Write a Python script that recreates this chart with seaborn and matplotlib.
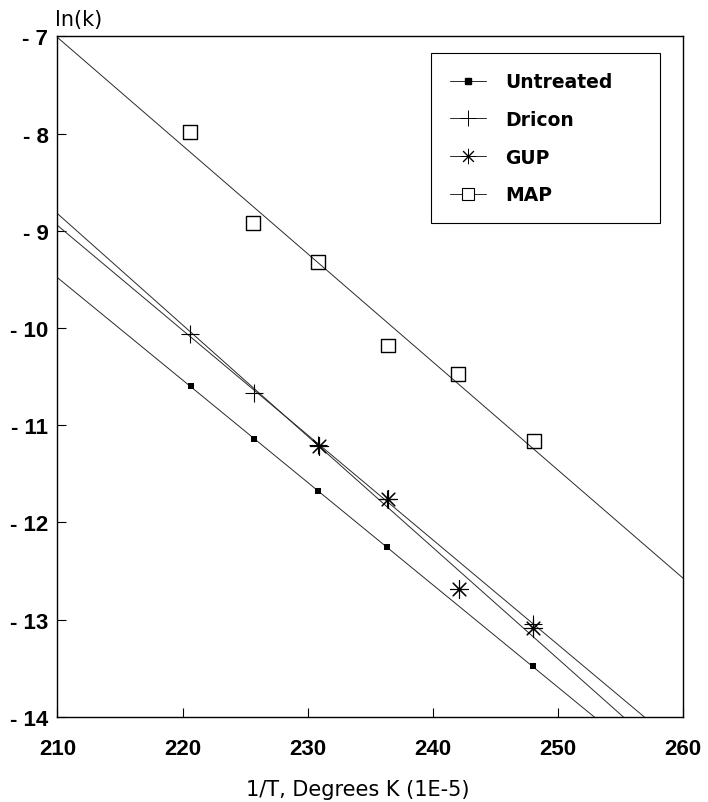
import matplotlib
matplotlib.use("Agg")
import matplotlib.pyplot as plt
from matplotlib.lines import Line2D
import seaborn as sns

# Reaction rate constants (ln k) against inverse temperature (1/T, 1E-5 K^-1)
untreated_x = [220.7, 225.7, 230.8, 236.3, 248.0]
untreated_y = [-10.60, -11.14, -11.68, -12.25, -13.48]

dricon_x = [220.6, 225.7, 230.8, 236.3, 248.0]
dricon_y = [-10.06, -10.67, -11.20, -11.76, -13.04]

gup_x = [230.9, 236.4, 242.1, 248.0]
gup_y = [-11.21, -11.76, -12.68, -13.08]

map_x = [220.6, 225.65, 230.8, 236.4, 242.0, 248.06]
map_y = [-7.98, -8.92, -9.32, -10.18, -10.47, -11.16]

series_names = ["Untreated", "Dricon", "GUP", "MAP"]

x_ticks = [210, 220, 230, 240, 250, 260]
x_tick_labels = ["210", "220", "230", "240", "250", "260"]
y_ticks = [-14, -13, -12, -11, -10, -9, -8, -7]
y_tick_labels = ["- 14", "- 13", "- 12", "- 11", "- 10", "- 9", "- 8", "- 7"]

sns.set_theme(style="ticks")
plt.rcParams["font.family"] = ["DejaVu Sans"]

fig = plt.figure(figsize=(7.08, 8.03), dpi=100)
ax = fig.add_axes([0.0812, 0.1059, 0.8835, 0.8476])
ax.set_xlim(210, 260)
ax.set_ylim(-14, -7)

ink = "#2a2a2a"
line_kws = dict(color=ink, lw=0.7, zorder=2)

styles = [
    dict(marker="s", s=22, color="black", linewidths=0),
    dict(marker="+", s=170, color="black", linewidths=0.8),
    dict(marker=(8, 2, 0), s=170, color="black", linewidths=0.8),
    dict(marker="s", s=100, color="black", facecolors="none",
         edgecolors="black", linewidths=1.0),
]
data = [(untreated_x, untreated_y), (dricon_x, dricon_y),
        (gup_x, gup_y), (map_x, map_y)]

# Least-squares Arrhenius fit for each treatment, extended across the axis
for (xs, ys), st in zip(data, styles):
    st = dict(st)
    mk = st.pop("marker")
    sns.regplot(x=xs, y=ys, ax=ax, ci=None, truncate=False, marker=mk,
                color="black", scatter_kws={**st, "alpha": 1, "zorder": 3},
                line_kws=line_kws)

ax.set_xlim(210, 260)
ax.set_ylim(-14, -7)
ax.set_xlabel("")
ax.set_ylabel("")

ax.set_xticks(x_ticks, labels=x_tick_labels, fontsize=16, fontweight="bold",
              fontfamily="Liberation Sans")
ax.set_yticks(y_ticks, labels=y_tick_labels, fontsize=16, fontweight="bold",
              fontfamily="Liberation Sans")
ax.tick_params(axis="both", direction="in", length=6.5, width=0.8,
               color="black", labelcolor="black")
ax.tick_params(axis="x", pad=15.5)
ax.tick_params(axis="y", pad=6.5)
for sp in ax.spines.values():
    sp.set_visible(True)
    sp.set_color("black")
    sp.set_linewidth(1.0)
ax.grid(False)
ax.set_facecolor("white")

fig.text(55 / 708, 1 - 20 / 803, "ln(k)", ha="left", va="center",
         fontsize=15, color="black")
fig.text(358 / 708, 1 - 790 / 803, "1/T, Degrees K (1E-5)", ha="center",
         va="center", fontsize=15, color="black")

handles = [
    Line2D([0], [0], color=ink, lw=0.7, marker="s", markersize=3.8,
           markerfacecolor="black", markeredgecolor="black"),
    Line2D([0], [0], color=ink, lw=0.7, marker="+", markersize=11,
           markeredgewidth=0.7, markeredgecolor="black"),
    Line2D([0], [0], color=ink, lw=0.7, marker=(8, 2, 0), markersize=11,
           markeredgewidth=0.7, markeredgecolor="black"),
    Line2D([0], [0], color=ink, lw=0.7, marker="s", markersize=9,
           markerfacecolor="white", markeredgecolor="black",
           markeredgewidth=0.8),
]
leg = ax.legend(handles=handles, labels=series_names, loc="upper left",
                bbox_to_anchor=(0.597, 0.7316, 0.366, 0.2434), mode="expand",
                frameon=True, fancybox=False, edgecolor="black", framealpha=1,
                prop=dict(family="DejaVu Sans", weight="bold", size=13.5),
                handlelength=1.95, handletextpad=1.0, labelspacing=1.0,
                borderpad=1.0, borderaxespad=0)
leg.get_frame().set_linewidth(0.8)
for t in leg.get_texts():
    t.set_color("black")

fig.savefig("out.png", dpi=100, facecolor="white")
